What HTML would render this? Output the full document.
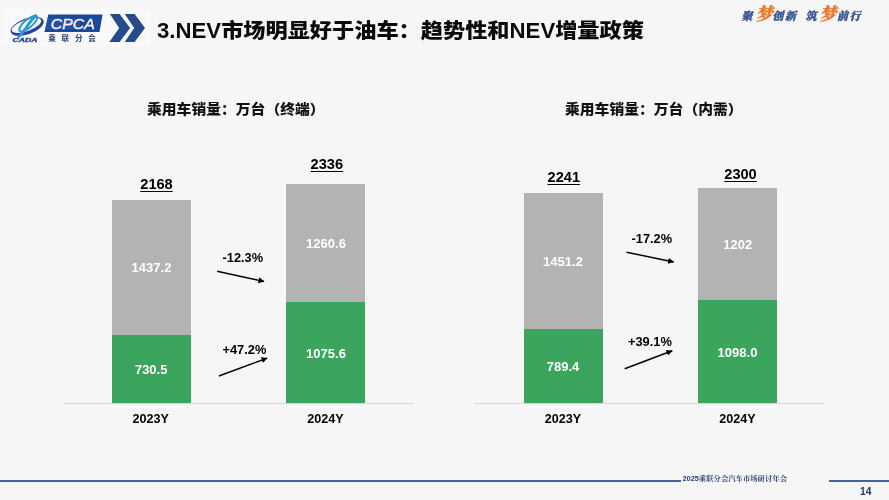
<!DOCTYPE html>
<html lang="zh-CN">
<head>
<meta charset="utf-8">
<title>3.NEV市场明显好于油车</title>
<style>
html,body{margin:0;padding:0;}
body{width:889px;height:500px;overflow:hidden;background:#f6f6f6;position:relative;
 font-family:"Liberation Sans","Noto Sans CJK SC",sans-serif;color:#000;}
.abs{position:absolute;white-space:nowrap;line-height:1;}
.title{left:157px;top:20px;font-size:22.2px;font-weight:bold;color:#0a0a0a;letter-spacing:0;}
.title .c{font-weight:900;display:inline-block;transform:scaleY(0.93);transform-origin:50% 88%;}
.ct{font-size:14.8px;font-weight:900;color:#111;transform:scaleY(0.93);transform-origin:50% 88%;}
.bar{position:absolute;}
.grey{background:#b3b3b3;}
.green{background:#3ba55d;}
.val{font-size:13px;font-weight:bold;color:#fff;transform:translateX(-50%);}
.tot{font-size:14.6px;font-weight:bold;color:#000;transform:translateX(-50%);text-decoration:underline;text-decoration-thickness:1.3px;text-underline-offset:1.5px;}
.yl{font-size:12.6px;font-weight:bold;color:#000;transform:translateX(-50%);}
.pct{font-size:12.8px;font-weight:bold;color:#000;}
.axis{position:absolute;height:1px;background:#dadada;}
.fline{position:absolute;height:1.5px;background:#4a648f;top:480.2px;}
.foot{font-family:"Liberation Sans","Noto Serif CJK SC",serif;font-weight:bold;font-size:7.35px;color:#2d4273;left:682.5px;top:474.5px;}
.pg{font-size:10.2px;font-weight:bold;color:#1f3864;left:860px;top:486.8px;}
.slog{font-family:"Noto Serif CJK SC",serif;font-weight:900;font-style:italic;color:#34508e;font-size:11px;-webkit-text-stroke:0.35px currentColor;}
.slog.big{color:#e8792b;font-size:17px;}
</style>
</head>
<body>

<!-- logo -->
<svg class="abs" style="left:0;top:0" width="160" height="60" viewBox="0 0 160 60">
  <defs><filter id="bl" x="-10%" y="-30%" width="120%" height="160%"><feGaussianBlur stdDeviation="1.5"/></filter></defs>
  <!-- emblem -->
  <rect x="3" y="9" width="147" height="37" fill="#f9f9f9" filter="url(#bl)"/>
  <ellipse cx="27.2" cy="26.4" rx="17.4" ry="7.9" transform="rotate(-20 27.2 26.4)" fill="#2c3f9f"/>
  <ellipse cx="26.5" cy="25.5" rx="15.6" ry="5.5" transform="rotate(-20 26.5 25.5)" fill="#f9f9f9"/>
  <g fill="none" stroke-linecap="round">
    <ellipse cx="28.2" cy="23.6" rx="11.2" ry="4" transform="rotate(-40 28.2 23.6)" stroke="#2a9bd2" stroke-width="2"/>
    <path d="M35.6 15.6 C32 19 28.5 24 25 29.5 C23 32.6 21 35 18.8 36.6" stroke="#2a9bd2" stroke-width="2.9"/>
  </g>
  <text x="12.6" y="41.8" font-family="Liberation Sans, sans-serif" font-size="5" font-weight="bold" font-style="italic" fill="#2c3f9f" stroke="#2c3f9f" stroke-width="0.3" textLength="25" lengthAdjust="spacingAndGlyphs">CADA</text>
  <!-- CPCA box -->
  <polygon points="48.3,14.6 102.6,14.6 99.5,32 44.4,32" fill="#18499b"/>
  <g stroke="#5f86c2" stroke-width="0.5" opacity="0.8">
    <line x1="47.3" y1="19.6" x2="80" y2="19.6"/>
    <line x1="46.8" y1="22.4" x2="80" y2="22.4"/>
    <line x1="46.3" y1="25.2" x2="80" y2="25.2"/>
    <line x1="45.8" y1="28" x2="80" y2="28"/>
  </g>
  <text x="50.8" y="29.3" font-family="Liberation Sans, sans-serif" font-size="14.6" font-style="italic" fill="#fdeaf0" stroke="#fdeaf0" stroke-width="0.45" textLength="44" lengthAdjust="spacingAndGlyphs">CPCA</text>
  <text x="48.3" y="41.2" font-family="Noto Sans CJK SC, sans-serif" font-size="7.6" font-weight="700" fill="#2b456f" textLength="47.5" lengthAdjust="spacing">乘联分会</text>
  <!-- chevrons -->
  <polygon points="109.9,14 119.6,14 130.1,27.9 119.6,41.9 109.4,41.9 119.2,27.9" fill="#254b8e"/>
  <polygon points="124.7,14 134.6,14 145,27.9 134.6,41.9 124.7,41.9 134.2,27.9" fill="#254b8e"/>
</svg>

<div class="abs title">3.NEV<span class="c">市场明显好于油车：趋势性和</span>NEV<span class="c">增量政策</span></div>

<!-- slogan -->
<div class="abs slog" style="left:741.6px;top:9.5px;">聚</div>
<div class="abs slog big" style="left:755.8px;top:4px;">梦</div>
<div class="abs slog" style="left:772.3px;top:9.5px;">创</div>
<div class="abs slog" style="left:784.9px;top:9.5px;">新</div>
<div class="abs slog" style="left:805.4px;top:9.5px;">筑</div>
<div class="abs slog big" style="left:819.5px;top:4px;">梦</div>
<div class="abs slog" style="left:836.9px;top:9.5px;">前</div>
<div class="abs slog" style="left:849.5px;top:9.5px;">行</div>

<!-- chart 1 -->
<div class="abs ct" style="left:147px;top:101.5px;">乘用车销量：万台（终端）</div>
<div class="bar grey" style="left:112px;top:200px;width:79px;height:135px;"></div>
<div class="bar green" style="left:112px;top:334.5px;width:79px;height:68.5px;"></div>
<div class="bar grey" style="left:286px;top:184px;width:79px;height:119px;"></div>
<div class="bar green" style="left:286px;top:302.3px;width:79px;height:100.7px;"></div>
<div class="axis" style="left:64px;top:403px;width:349.7px;"></div>
<div class="abs tot" style="left:156.5px;top:176.5px;">2168</div>
<div class="abs tot" style="left:326.8px;top:157px;">2336</div>
<div class="abs val" style="left:151.5px;top:261px;">1437.2</div>
<div class="abs val" style="left:151.2px;top:363px;">730.5</div>
<div class="abs val" style="left:326px;top:237px;">1260.6</div>
<div class="abs val" style="left:326px;top:346.5px;">1075.6</div>
<div class="abs yl" style="left:150.8px;top:413px;">2023Y</div>
<div class="abs yl" style="left:325.5px;top:413px;">2024Y</div>
<div class="abs pct" style="left:222.5px;top:251.8px;">-12.3%</div>
<div class="abs pct" style="left:222.5px;top:344px;">+47.2%</div>

<!-- chart 2 -->
<div class="abs ct" style="left:565px;top:101.5px;">乘用车销量：万台（内需）</div>
<div class="bar grey" style="left:523.5px;top:193.2px;width:79.4px;height:137px;"></div>
<div class="bar green" style="left:523.5px;top:329.1px;width:79.4px;height:73.9px;"></div>
<div class="bar grey" style="left:697.7px;top:187.7px;width:79.2px;height:113px;"></div>
<div class="bar green" style="left:697.7px;top:300.2px;width:79.2px;height:102.8px;"></div>
<div class="axis" style="left:474.5px;top:403px;width:349.7px;"></div>
<div class="abs tot" style="left:563.8px;top:170px;">2241</div>
<div class="abs tot" style="left:740.5px;top:167px;">2300</div>
<div class="abs val" style="left:563px;top:255px;">1451.2</div>
<div class="abs val" style="left:563px;top:360px;">789.4</div>
<div class="abs val" style="left:737.7px;top:238px;">1202</div>
<div class="abs val" style="left:737.5px;top:345.6px;">1098.0</div>
<div class="abs yl" style="left:563px;top:413px;">2023Y</div>
<div class="abs yl" style="left:737.5px;top:413px;">2024Y</div>
<div class="abs pct" style="left:631.5px;top:232.6px;">-17.2%</div>
<div class="abs pct" style="left:628px;top:336px;">+39.1%</div>

<!-- arrows -->
<svg class="abs" style="left:0;top:0;pointer-events:none" width="889" height="500" viewBox="0 0 889 500">
  <defs>
    <marker id="ah" viewBox="0 0 10 10" refX="9.5" refY="5" markerWidth="6" markerHeight="6" markerUnits="userSpaceOnUse" orient="auto">
      <path d="M0,0 L10,5 L0,10 Z" fill="#000"/>
    </marker>
  </defs>
  <g stroke="#000" stroke-width="1.45" fill="none">
    <line x1="217.1" y1="271.2" x2="264.1" y2="281.5" marker-end="url(#ah)"/>
    <line x1="218.9" y1="376" x2="267.2" y2="358.1" marker-end="url(#ah)"/>
    <line x1="626.5" y1="252.2" x2="673.7" y2="262" marker-end="url(#ah)"/>
    <line x1="624.7" y1="368.7" x2="672.3" y2="350.8" marker-end="url(#ah)"/>
  </g>
</svg>

<!-- footer -->
<div class="fline" style="left:0;width:681px;"></div>
<div class="fline" style="left:828.5px;width:61px;"></div>
<div class="abs foot">2025<span>乘联分会汽车市场研讨年会</span></div>
<div class="abs pg">14</div>

</body>
</html>
